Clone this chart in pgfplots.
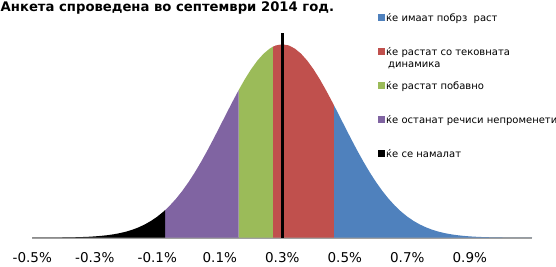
\documentclass[border=0pt]{standalone}
\usepackage{pgfplots}
\pgfplotsset{compat=1.18}
\usepackage{fontspec}
\setmainfont{DejaVu Sans}
\definecolor{cblue}{HTML}{4F81BD}
\definecolor{cred}{HTML}{C0504D}
\definecolor{cgreen}{HTML}{9BBB59}
\definecolor{cpurple}{HTML}{8064A2}
\definecolor{caxis}{HTML}{A0A0A0}
\begin{document}
\begin{tikzpicture}[x=1pt,y=1pt]
\useasboundingbox (0,0) rectangle (556,266);
\node[anchor=base west, inner sep=0pt, font=\fontsize{13.2}{15}\selectfont\bfseries] at (0.5,254.5) {Анкета спроведена во септември 2014 год.};
\begin{axis}[
  at={(32.3pt,28.3pt)}, anchor=south west,
  scale only axis, width=500pt, height=205pt,
  xmin=-0.5, xmax=1.1, ymin=0, ymax=1.06,
  axis y line=none, axis x line*=bottom,
  x axis line style={caxis, line width=1.6pt},
  xtick={-0.5,-0.3,-0.1,0.1,0.3,0.5,0.7,0.9},
  xticklabels={-0.5\%,-0.3\%,-0.1\%,0.1\%,0.3\%,0.5\%,0.7\%,0.9\%},
  major tick length=0pt,
  xticklabel style={font=\fontsize{13.5}{15}\selectfont, inner sep=0pt, yshift=-15pt},
  clip=false,
  legend style={at={(0.691,1.096)}, anchor=north west, draw=none, fill=none, inner sep=0pt,
    font=\fontsize{10}{12}\selectfont, row sep=24pt, column sep=1.5pt,
    nodes={inner sep=0pt, text height=8pt, text depth=2pt, anchor=base west}},
  legend cell align=left,
  legend image code/.code={\draw[#1,draw=none] (0pt,0.3pt) rectangle (6.7pt,7pt);},
]
\addplot[fill=cblue, draw=none] coordinates {
(0.465,0.6859) (0.48,0.6384) (0.50,0.5747) (0.52,0.5115) (0.54,0.4503) (0.56,0.3921)
(0.58,0.3376) (0.60,0.2875) (0.62,0.2421) (0.64,0.2017) (0.66,0.1661) (0.68,0.1353)
(0.70,0.1090) (0.72,0.0869) (0.74,0.0685) (0.76,0.0534) (0.78,0.0411) (0.80,0.0313)
(0.82,0.0236) (0.84,0.0176) (0.86,0.0130) (0.88,0.00947) (0.90,0.00683) (0.92,0.00487)
(0.94,0.00344) (0.96,0.0024) (0.98,0.00165) (1.00,0.00113) (1.02,0.00076) (1.04,0.0005)
(1.06,0.00034) (1.08,0.00022) (1.10,0.00014)
} \closedcycle;
\addlegendentry{ќе имаат побрз \ раст}
\addplot[fill=cred, draw=none] coordinates {
(0.27,0.9876) (0.28,0.9945) (0.30,1) (0.32,0.9945) (0.34,0.9781) (0.36,0.9514)
(0.38,0.9152) (0.40,0.8707) (0.42,0.8192) (0.44,0.7622) (0.46,0.7014) (0.465,0.6859)
} \closedcycle;
\addlegendentry{\raisebox{0pt}[\height][0pt]{\vtop{\hbox{ќе растат со тековната}\hbox{\hspace{2pt}динамика}}}}
\addplot[fill=cgreen, draw=none] coordinates {
(0.16,0.7622) (0.18,0.8192) (0.20,0.8707) (0.22,0.9152) (0.24,0.9514) (0.26,0.9781) (0.27,0.9876)
} \closedcycle;
\addlegendentry{ќе растат побавно}
\addplot[fill=cpurple, draw=none] coordinates {
(-0.075,0.1426) (-0.06,0.1661) (-0.04,0.2017) (-0.02,0.2421) (0.00,0.2875) (0.02,0.3376)
(0.04,0.3921) (0.06,0.4503) (0.08,0.5115) (0.10,0.5747) (0.12,0.6384) (0.14,0.7014) (0.16,0.7622)
} \closedcycle;
\addlegendentry{ќе останат речиси непроменети}
\addplot[fill=black, draw=none] coordinates {
(-0.50,0.00014) (-0.48,0.00022) (-0.46,0.00034) (-0.44,0.0005) (-0.42,0.00076) (-0.40,0.00113)
(-0.38,0.00165) (-0.36,0.0024) (-0.34,0.00344) (-0.32,0.00487) (-0.30,0.00683) (-0.28,0.00947)
(-0.26,0.0130) (-0.24,0.0176) (-0.22,0.0236) (-0.20,0.0313) (-0.18,0.0411) (-0.16,0.0534)
(-0.14,0.0685) (-0.12,0.0869) (-0.10,0.1090) (-0.08,0.1353) (-0.075,0.1426)
} \closedcycle;
\addlegendentry{ќе се намалат}
\addplot[black, line width=2.7pt, forget plot] coordinates {(0.3,0) (0.3,1.057)};
\end{axis}
\end{tikzpicture}
\end{document}
